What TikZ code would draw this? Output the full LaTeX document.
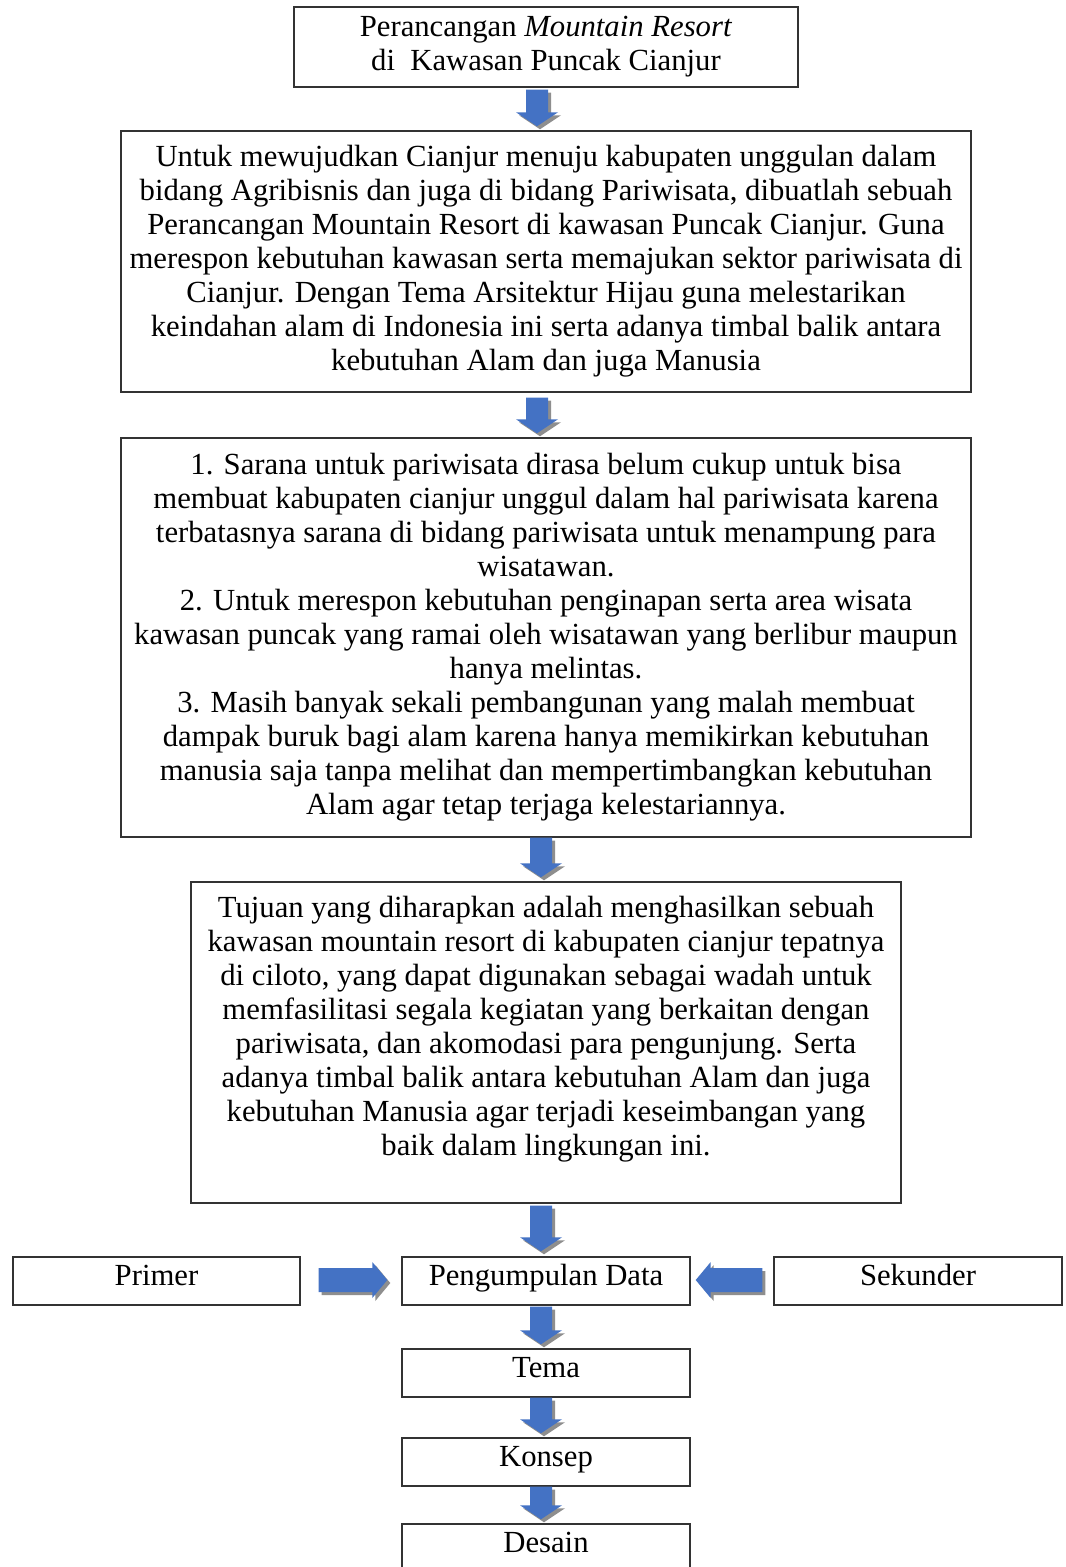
\documentclass[tikz,border=0pt]{standalone}
\usepackage{fontspec}
\setmainfont{Liberation Serif}
\usetikzlibrary{calc}
\definecolor{arrblue}{HTML}{4472C4}
\definecolor{shadowgray}{HTML}{8E8E8E}
\tikzset{
  box/.style={draw=black!80, line width=1.4pt, align=center, inner sep=0pt,
    font=\fontsize{30.7}{34}\selectfont},
  smallbox/.style={box, minimum width=288, minimum height=48, text height=19pt, text depth=11pt},
}
% block arrow: #1 start, #2 end, #3 shaft half width, #4 head half width, #5 head length, #6 colour
\newcommand\barrpath[6]{%
  \fill[#6] ($(bs)!#3!90:(be)$) -- ($(bh)!#3!-90:(bs)$) -- ($(bh)!#4!-90:(bs)$) -- (be)
    -- ($(bh)!#4!90:(bs)$) -- ($(bh)!#3!90:(bs)$) -- ($(bs)!#3!-90:(be)$) -- cycle;}
\newcommand\barr[5]{%
  \coordinate (bs) at #1; \coordinate (be) at #2;
  \coordinate (bh) at ($(be)!#5!(bs)$);
  \begin{scope}[transform canvas={shift={(3pt,-3pt)}}]
    \barrpath{#1}{#2}{#3}{#4}{#5}{shadowgray}
  \end{scope}
  \barrpath{#1}{#2}{#3}{#4}{#5}{arrblue}}
\begin{document}
\begin{tikzpicture}[x=1pt,y=-1pt]
\useasboundingbox (0,0) rectangle (1066,1567);
\fill[white] (0,0) rectangle (1066,1567);

\node[box, minimum width=504, minimum height=80] (t) at (546,47)
  {Perancangan \textit{Mountain Resort}\\di~ Kawasan Puncak Cianjur};

\node[box, minimum width=850, minimum height=261] (b2) at (546,261.5)
  {Untuk mewujudkan Cianjur menuju kabupaten unggulan dalam\\
   bidang Agribisnis dan juga di bidang Pariwisata, dibuatlah sebuah\\
   Perancangan Mountain Resort di kawasan Puncak Cianjur. Guna\\
   merespon kebutuhan kawasan serta memajukan sektor pariwisata di\\
   Cianjur. Dengan Tema Arsitektur Hijau guna melestarikan\\
   keindahan alam di Indonesia ini serta adanya timbal balik antara\\
   kebutuhan Alam dan juga Manusia};

\node[box, minimum width=850, minimum height=399] (b3) at (546,637.5)
  {1. Sarana untuk pariwisata dirasa belum cukup untuk bisa\\
   membuat kabupaten cianjur unggul dalam hal pariwisata karena\\
   terbatasnya sarana di bidang pariwisata untuk menampung para\\
   wisatawan.\\
   2. Untuk merespon kebutuhan penginapan serta area wisata\\
   kawasan puncak yang ramai oleh wisatawan yang berlibur maupun\\
   hanya melintas.\\
   3. Masih banyak sekali pembangunan yang malah membuat\\
   dampak buruk bagi alam karena hanya memikirkan kebutuhan\\
   manusia saja tanpa melihat dan mempertimbangkan kebutuhan\\
   Alam agar tetap terjaga kelestariannya.};

\node[box, minimum width=710, minimum height=321] (b4) at (546,1042.5)
  {Tujuan yang diharapkan adalah menghasilkan sebuah\\
   kawasan mountain resort di kabupaten cianjur tepatnya\\
   di ciloto, yang dapat digunakan sebagai wadah untuk\\
   memfasilitasi segala kegiatan yang berkaitan dengan\\
   pariwisata, dan akomodasi para pengunjung. Serta\\
   adanya timbal balik antara kebutuhan Alam dan juga\\
   kebutuhan Manusia agar terjadi keseimbangan yang\\
   baik dalam lingkungan ini.\\ \mbox{}};

\node[smallbox, minimum width=287] (pri) at (156.5,1281) {Primer};
\node[smallbox] (pd) at (546,1281) {Pengumpulan Data};
\node[smallbox] (sek) at (918,1281) {Sekunder};
\node[smallbox] (tema) at (546,1373) {Tema};
\node[smallbox] (kon) at (546,1462) {Konsep};
\node[smallbox] (des) at (546,1548) {Desain};

\barr{($(t.south)+(-9,2)$)}{($(b2.north)+(-9,-4)$)}{11pt}{21pt}{14pt}
\barr{($(b2.south)+(-9,5)$)}{($(b3.north)+(-9,-4)$)}{11pt}{21pt}{14pt}
\barr{($(b3.south)+(-5,0)$)}{($(b4.north)+(-5,-4)$)}{11pt}{21pt}{14pt}
\barr{($(b4.south)+(-5,2)$)}{($(pd.north)+(-5,-5)$)}{11pt}{21pt}{14pt}
\barr{($(pd.south)+(-5,1)$)}{($(tema.north)+(-5,-4)$)}{11pt}{21pt}{14pt}
\barr{($(tema.south)+(-5,0)$)}{($(kon.north)+(-5,-4)$)}{11pt}{21pt}{14pt}
\barr{($(kon.south)+(-5,0)$)}{($(des.north)+(-5,-4)$)}{11pt}{21pt}{14pt}
\barr{($(pri.east)+(18,-1)$)}{($(pd.west)+(-14,-1)$)}{12pt}{18pt}{15pt}
\barr{($(sek.west)+(-11,-1)$)}{($(pd.east)+(5,-1)$)}{12pt}{18pt}{15pt}
\end{tikzpicture}
\end{document}
